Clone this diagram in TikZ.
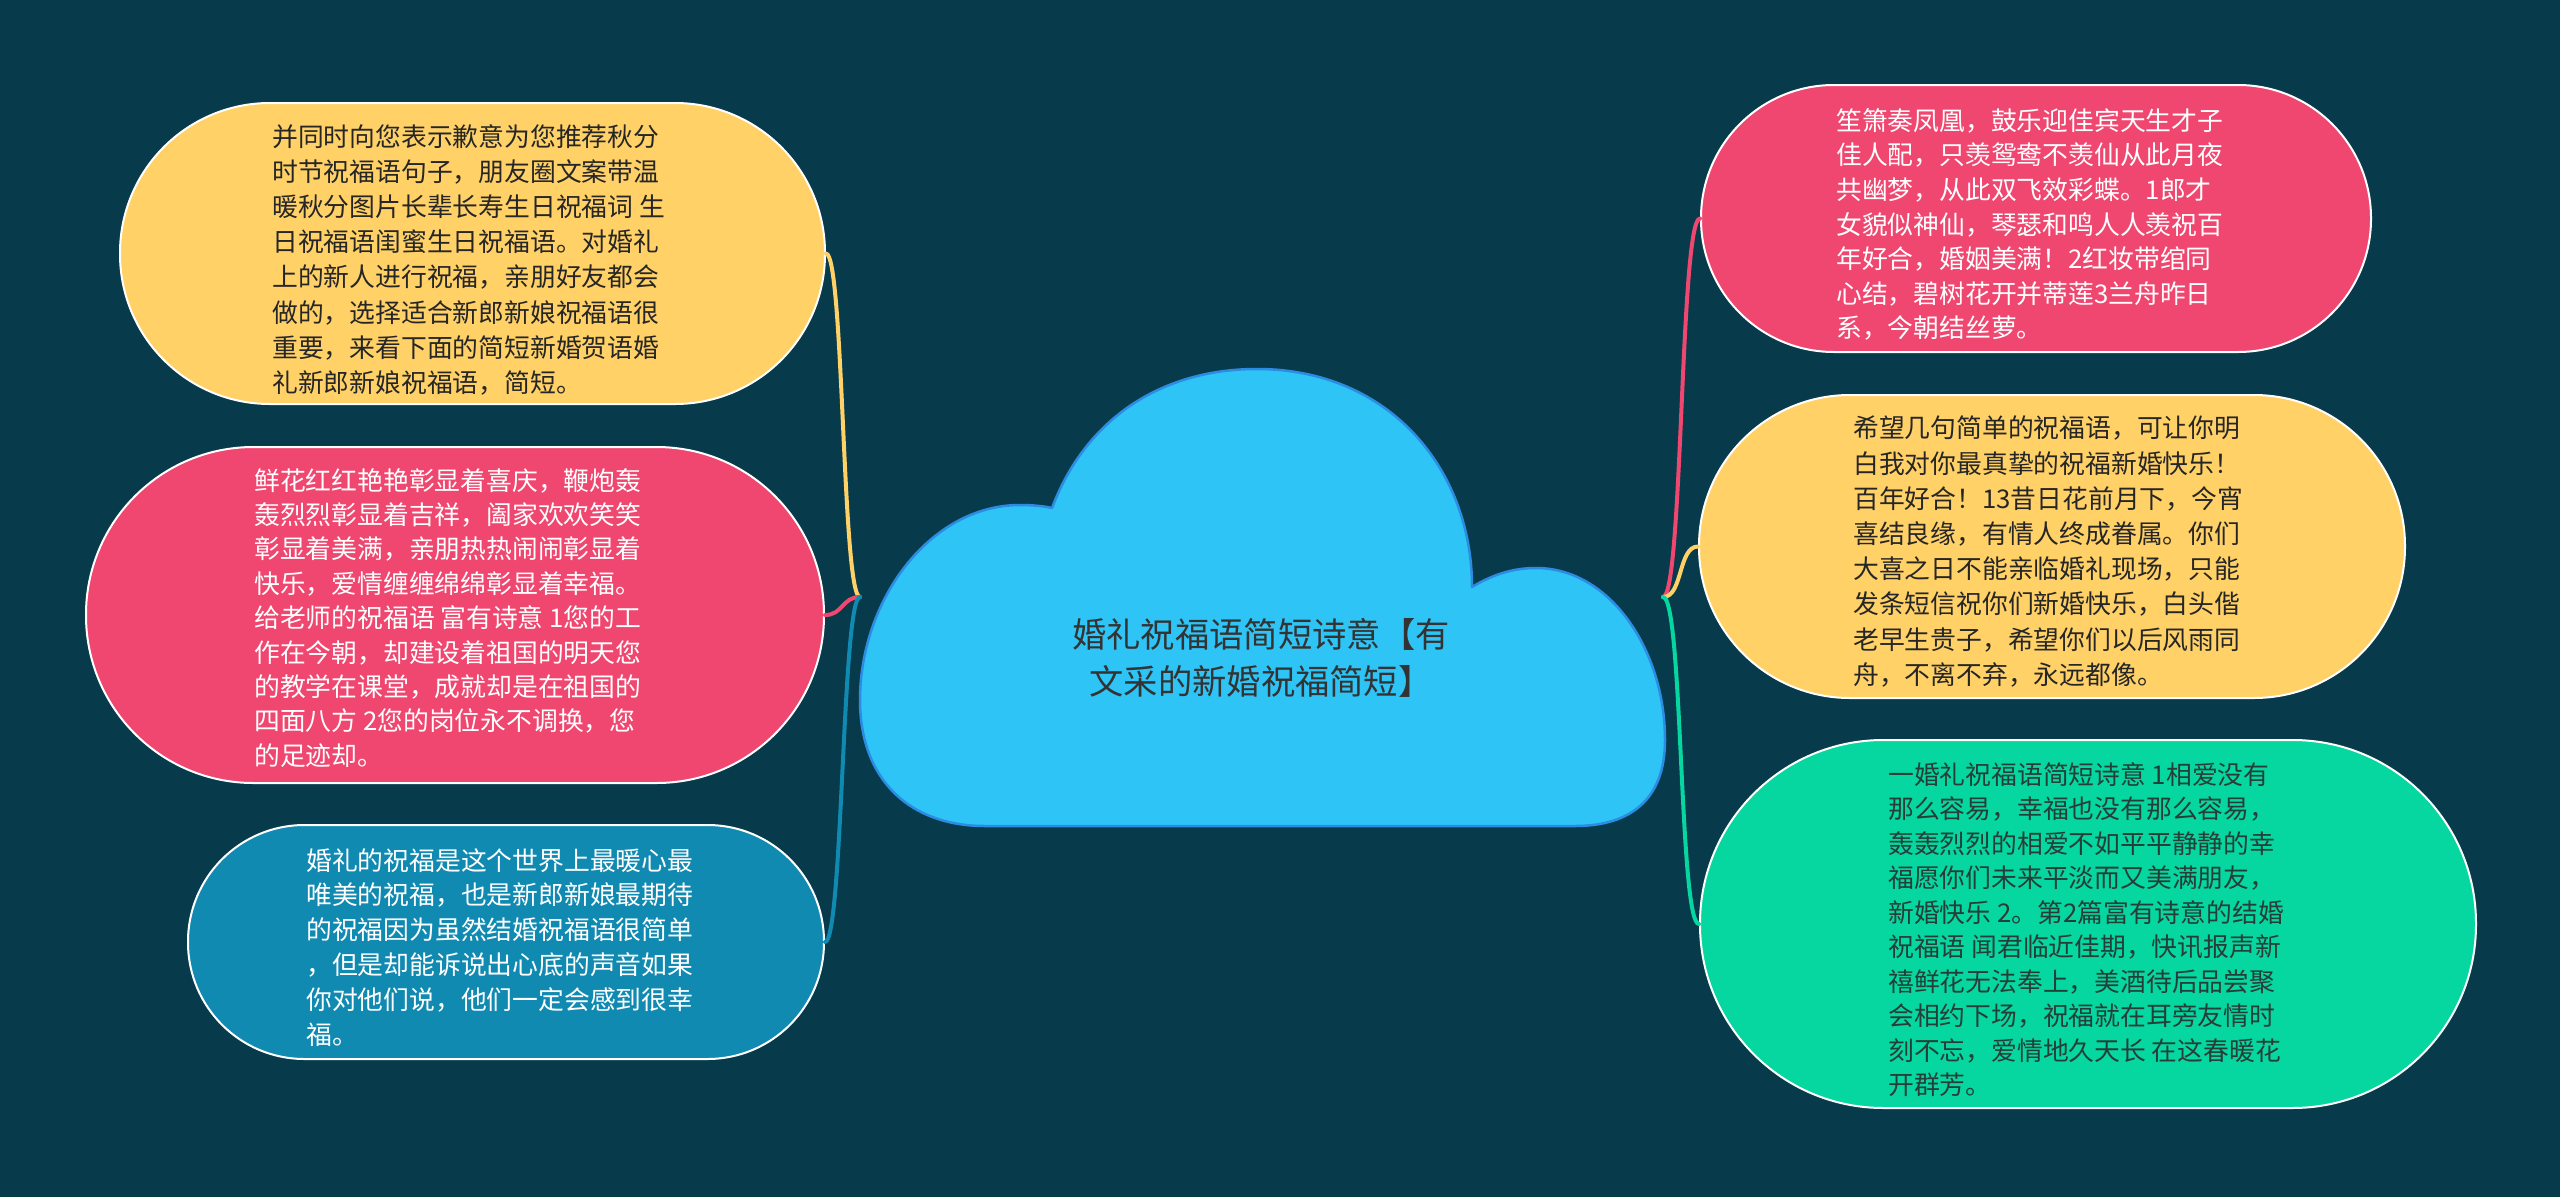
\documentclass[tikz,border=0pt]{standalone}
\usepackage{fontspec}
\newfontfamily\cjk{Noto Sans CJK SC}
\definecolor{bg}{RGB}{7,59,76}
\definecolor{cpink}{RGB}{239,71,111}
\definecolor{cyellow}{RGB}{255,209,102}
\definecolor{cgreen}{RGB}{6,214,160}
\definecolor{cblue}{RGB}{17,138,178}
\definecolor{ccloud}{RGB}{46,196,246}
\definecolor{ccloudline}{RGB}{44,140,226}
\definecolor{dtext}{RGB}{38,38,38}
\definecolor{gtext}{RGB}{38,62,56}
\definecolor{titletext}{RGB}{51,51,51}
\tikzset{
  box/.style={draw=white, line width=2pt, inner sep=0pt},
  txt/.style={font=\cjk\fontsize{25.8}{35}\selectfont, align=left, inner sep=0pt, anchor=north west},
  conn/.style={line width=4pt, line cap=round},
  cloudshape/.style={fill=ccloud, draw=ccloudline, line width=2.5pt, line join=round},
}
\begin{document}
\begin{tikzpicture}[x=1pt,y=-1pt]
\fill[bg] (0,0) rectangle (2560,1197);
\useasboundingbox (0,0) rectangle (2560,1197);

% central cloud
\draw[cloudshape] (1052,508)
  .. controls (1085,420) and (1160,369) .. (1257,369)
  .. controls (1390,369) and (1472,470) .. (1472,587)
  .. controls (1492,575) and (1512,568) .. (1536,568)
  .. controls (1610,568) and (1665,650) .. (1665,740)
  .. controls (1665,800) and (1630,826) .. (1575,826)
  -- (985,826)
  .. controls (910,826) and (860,780) .. (860,700)
  .. controls (860,600) and (930,505) .. (1020,505)
  .. controls (1032,505) and (1043,506) .. (1052,508) -- cycle;
\node[font=\cjk\fontsize{34.3}{47}\selectfont, text=titletext, align=center, inner sep=0pt] (root) at (1261,658)
  {婚礼祝福语简短诗意【有\\文采的新婚祝福简短】};

% left branch boxes
\node[box, fill=cyellow, minimum width=705, minimum height=301, rounded corners=150] (L1) at (472.5,253.5) {};
\node[box, fill=cpink, minimum width=738, minimum height=336, rounded corners=167.5] (L2) at (455,615) {};
\node[box, fill=cblue, minimum width=636, minimum height=234, rounded corners=116.5] (L3) at (506,942) {};

% right branch boxes
\node[box, fill=cpink, minimum width=670, minimum height=267, rounded corners=133] (R1) at (2036,218.5) {};
\node[box, fill=cyellow, minimum width=706, minimum height=303, rounded corners=151] (R2) at (2052,546.5) {};
\node[box, fill=cgreen, minimum width=776, minimum height=368, rounded corners=183.5] (R3) at (2088,924) {};

% texts
\node[txt, text=dtext, font=\cjk\fontsize{25.8}{35.2}\selectfont] (L1t) at (272,124) {并同时向您表示歉意为您推荐秋分\\时节祝福语句子，朋友圈文案带温\\暖秋分图片长辈长寿生日祝福词 生\\日祝福语闺蜜生日祝福语。对婚礼\\上的新人进行祝福，亲朋好友都会\\做的，选择适合新郎新娘祝福语很\\重要，来看下面的简短新婚贺语婚\\礼新郎新娘祝福语，简短。};
\node[txt, text=white, font=\cjk\fontsize{25.8}{34.4}\selectfont] (L2t) at (254,468) {鲜花红红艳艳彰显着喜庆，鞭炮轰\\轰烈烈彰显着吉祥，阖家欢欢笑笑\\彰显着美满，亲朋热热闹闹彰显着\\快乐，爱情缠缠绵绵彰显着幸福。\\给老师的祝福语 富有诗意 1您的工\\作在今朝，却建设着祖国的明天您\\的教学在课堂，成就却是在祖国的\\四面八方 2您的岗位永不调换，您\\的足迹却。};
\node[txt, text=white, font=\cjk\fontsize{25.8}{34.8}\selectfont] (L3t) at (306,848) {婚礼的祝福是这个世界上最暖心最\\唯美的祝福，也是新郎新娘最期待\\的祝福因为虽然结婚祝福语很简单\\，但是却能诉说出心底的声音如果\\你对他们说，他们一定会感到很幸\\福。};
\node[txt, text=white, font=\cjk\fontsize{25.8}{34.6}\selectfont] (R1t) at (1836,108) {笙箫奏凤凰，鼓乐迎佳宾天生才子\\佳人配，只羡鸳鸯不羡仙从此月夜\\共幽梦，从此双飞效彩蝶。1郎才\\女貌似神仙，琴瑟和鸣人人羡祝百\\年好合，婚姻美满！2红妆带绾同\\心结，碧树花开并蒂莲3兰舟昨日\\系，今朝结丝萝。};
\node[txt, text=dtext, font=\cjk\fontsize{25.8}{35.2}\selectfont] (R2t) at (1853,416) {希望几句简单的祝福语，可让你明\\白我对你最真挚的祝福新婚快乐！\\百年好合！13昔日花前月下，今宵\\喜结良缘，有情人终成眷属。你们\\大喜之日不能亲临婚礼现场，只能\\发条短信祝你们新婚快乐，白头偕\\老早生贵子，希望你们以后风雨同\\舟，不离不弃，永远都像。};
\node[txt, text=gtext, font=\cjk\fontsize{25.8}{34.5}\selectfont] (R3t) at (1888,762) {一婚礼祝福语简短诗意 1相爱没有\\那么容易，幸福也没有那么容易，\\轰轰烈烈的相爱不如平平静静的幸\\福愿你们未来平淡而又美满朋友，\\新婚快乐 2。第2篇富有诗意的结婚\\祝福语 闻君临近佳期，快讯报声新\\禧鲜花无法奉上，美酒待后品尝聚\\会相约下场，祝福就在耳旁友情时\\刻不忘，爱情地久天长 在这春暖花\\开群芳。};

% connectors
\coordinate (cl) at (860,597);
\coordinate (cr) at (1663,597);
\draw[conn, cyellow] (L1.east) .. controls ([xshift=18pt]L1.east) and ([xshift=-18pt]cl) .. (cl);
\draw[conn, cpink] (L2.east) .. controls ([xshift=18pt]L2.east) and ([xshift=-18pt]cl) .. (cl);
\draw[conn, cblue] (L3.east) .. controls ([xshift=18pt]L3.east) and ([xshift=-18pt]cl) .. (cl);
\draw[conn, cpink] (cr) .. controls ([xshift=20pt]cr) and ([xshift=-20pt]R1.west) .. (R1.west);
\draw[conn, cyellow] (cr) .. controls ([xshift=20pt]cr) and ([xshift=-20pt]R2.west) .. (R2.west);
\draw[conn, cgreen] (cr) .. controls ([xshift=20pt]cr) and ([xshift=-20pt]R3.west) .. (R3.west);
\end{tikzpicture}
\end{document}
